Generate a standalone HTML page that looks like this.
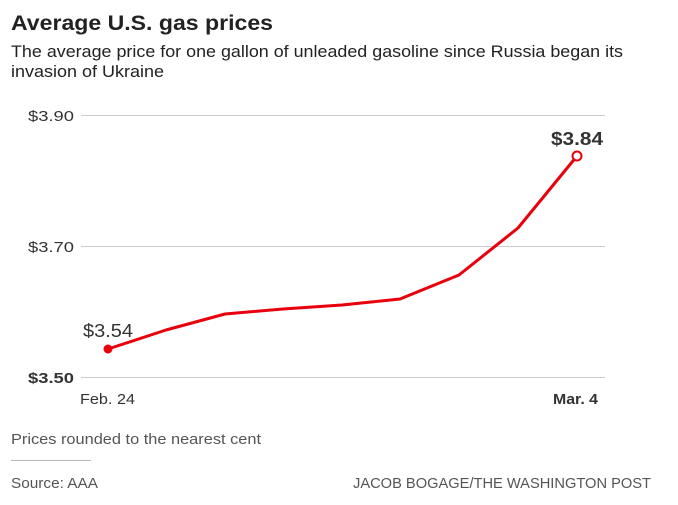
<!DOCTYPE html>
<html><head><style>
body{margin:0;background:#fff;}
svg{display:block;font-family:"Liberation Sans",sans-serif;}
</style></head><body>
<svg width="678" height="505" viewBox="0 0 678 505">
<text x="11" y="30" font-size="21" font-weight="bold" fill="#222" textLength="262" lengthAdjust="spacingAndGlyphs">Average U.S. gas prices</text>
<text x="11" y="57" font-size="17" fill="#222" textLength="612" lengthAdjust="spacingAndGlyphs">The average price for one gallon of unleaded gasoline since Russia began its</text>
<text x="11" y="77" font-size="17" fill="#222" textLength="153" lengthAdjust="spacingAndGlyphs">invasion of Ukraine</text>
<g stroke="#ccc" stroke-width="1">
<line x1="81" y1="115.5" x2="605" y2="115.5"/>
<line x1="81" y1="246.5" x2="605" y2="246.5"/>
<line x1="81" y1="377.5" x2="605" y2="377.5"/>
</g>
<g font-size="15" fill="#333">
<text x="74" y="121" text-anchor="end" textLength="46" lengthAdjust="spacingAndGlyphs">$3.90</text>
<text x="74" y="252" text-anchor="end" textLength="46" lengthAdjust="spacingAndGlyphs">$3.70</text>
<text x="74" y="383" text-anchor="end" font-weight="bold" textLength="46" lengthAdjust="spacingAndGlyphs">$3.50</text>
<text x="80" y="404" textLength="55" lengthAdjust="spacingAndGlyphs">Feb. 24</text>
<text x="553" y="404" font-weight="bold" textLength="45" lengthAdjust="spacingAndGlyphs">Mar. 4</text>
</g>
<polyline fill="none" stroke="#e8000b" stroke-width="3" stroke-linejoin="round" points="108,349 166,330 225,314 283,309 342,305 400,299 459,275 518,228 577,156"/>
<circle cx="108" cy="349" r="4.5" fill="#e8000b"/>
<circle cx="577" cy="156" r="4.5" fill="#fff" stroke="#e8000b" stroke-width="2"/>
<text x="83" y="337" font-size="18" fill="#333" textLength="50" lengthAdjust="spacingAndGlyphs">$3.54</text>
<text x="551" y="145" font-size="18" font-weight="bold" fill="#333" textLength="52" lengthAdjust="spacingAndGlyphs">$3.84</text>
<text x="11" y="444" font-size="15" fill="#555" textLength="250" lengthAdjust="spacingAndGlyphs">Prices rounded to the nearest cent</text>
<line x1="11" y1="460.5" x2="91" y2="460.5" stroke="#bbb"/>
<text x="11" y="488" font-size="15" fill="#555" textLength="87" lengthAdjust="spacingAndGlyphs">Source: AAA</text>
<text x="651" y="488" font-size="15" fill="#555" text-anchor="end" textLength="298" lengthAdjust="spacingAndGlyphs">JACOB BOGAGE/THE WASHINGTON POST</text>
</svg>
</body></html>
